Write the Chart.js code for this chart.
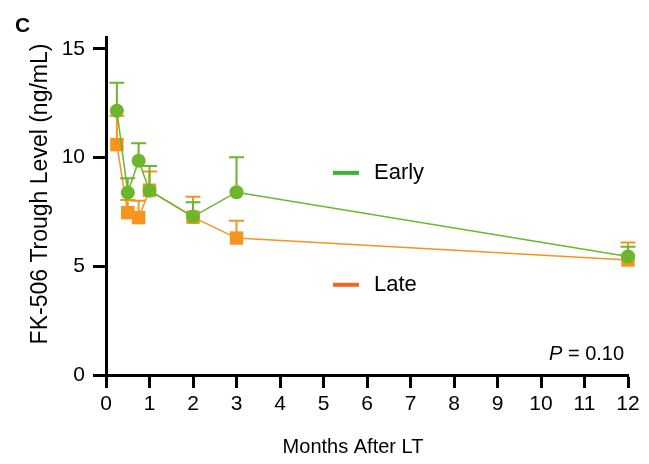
<!DOCTYPE html>
<html>
<head>
<meta charset="utf-8">
<script src="https://cdn.jsdelivr.net/npm/chart.js@4.4.0/dist/chart.umd.min.js"></script>
<style>
  html, body { margin: 0; padding: 0; background: #fff; }
  #wrap { position: relative; width: 649px; height: 464px; }
</style>
</head>
<body>
<div id="wrap"><canvas id="c" width="649" height="464"></canvas></div>
<script>
// ---- data ----
const months = [0.25, 0.5, 0.75, 1, 2, 3, 12];
const earlyMean = [12.16, 8.39, 9.86, 8.48, 7.29, 8.41, 5.45];
const earlyUpper = [13.45, 9.05, 10.66, 9.62, 7.95, 10.02, 5.9];
const lateMean = [10.6, 7.47, 7.24, 8.5, 7.26, 6.3, 5.29];
const lateUpper = [11.93, 8.05, 8.02, 9.36, 8.2, 7.1, 6.1];
const xTicks = [0,1,2,3,4,5,6,7,8,9,10,11,12];
const yTicks = [0, 5, 10, 15];
const seriesNames = ['Early', 'Late'];
const panelLabel = 'C';
const xTitle = 'Months After LT';
const yTitle = 'FK-506 Trough Level (ng/mL)';
const pText = '= 0.10';

const GREEN = '#6cb52d';
const ORANGE = '#f7941d';
const LEG_GREEN = '#3db135';
const LEG_ORANGE = '#f26522';
const FONT = '"Liberation Sans", Arial, Helvetica, sans-serif';

function pts(xs, ys) { return xs.map((x, i) => ({ x: x, y: ys[i] })); }

const errorBars = {
  id: 'errorBars',
  beforeDatasetDraw(chart, args) {
    const ds = chart.data.datasets[args.index];
    if (!ds.upper) return;
    const ctx = chart.ctx, xs = chart.scales.x, ys = chart.scales.y;
    ctx.save();
    ctx.strokeStyle = ds.borderColor;
    ctx.lineWidth = 2;
    ds.data.forEach((p, i) => {
      const px = xs.getPixelForValue(p.x);
      const py = ys.getPixelForValue(p.y);
      const pu = ys.getPixelForValue(ds.upper[i]);
      ctx.beginPath();
      ctx.moveTo(px, py); ctx.lineTo(px, pu);
      ctx.moveTo(px - 7.5, pu); ctx.lineTo(px + 7.5, pu);
      ctx.stroke();
    });
    ctx.restore();
  }
};

const annotations = {
  id: 'annotations',
  afterDraw(chart) {
    const ctx = chart.ctx, xs = chart.scales.x, ys = chart.scales.y;
    ctx.save();
    ctx.fillStyle = '#000';
    // panel label
    ctx.font = 'bold 21px ' + FONT;
    ctx.textBaseline = 'alphabetic';
    ctx.textAlign = 'left';
    ctx.fillText(panelLabel, 15, 32);
    // axis titles
    ctx.font = '20px ' + FONT;
    ctx.textAlign = 'center';
    ctx.textBaseline = 'middle';
    ctx.fillText(xTitle, 353, 447);
    ctx.save();
    ctx.translate(41, 194);
    ctx.rotate(-Math.PI / 2);
    ctx.font = '23px ' + FONT;
    ctx.fillText(yTitle, 0, 0);
    ctx.restore();
    // legend
    ctx.textAlign = 'left';
    const legs = [
      { name: seriesNames[0], color: LEG_GREEN, yv: 9.3 },
      { name: seriesNames[1], color: LEG_ORANGE, yv: 4.15 }
    ];
    legs.forEach(l => {
      const y = ys.getPixelForValue(l.yv);
      ctx.strokeStyle = l.color;
      ctx.lineWidth = 4;
      ctx.beginPath();
      ctx.moveTo(333, y); ctx.lineTo(359, y);
      ctx.stroke();
      ctx.fillStyle = '#000';
      ctx.font = '22px ' + FONT;
      ctx.textBaseline = 'middle';
      ctx.fillText(l.name, 374, y);
    });
    // P value
    ctx.textBaseline = 'alphabetic';
    ctx.font = 'italic 20px ' + FONT;
    ctx.fillText('P', 549, 360);
    const w = ctx.measureText('P ').width;
    ctx.font = '20px ' + FONT;
    ctx.fillText(pText, 549 + w, 360);
    ctx.restore();
  }
};

new Chart(document.getElementById('c'), {
  type: 'scatter',
  data: {
    datasets: [
      {
        label: seriesNames[0],
        data: pts(months, earlyMean),
        upper: earlyUpper,
        showLine: true,
        clip: false,
        borderColor: GREEN,
        backgroundColor: GREEN,
        borderWidth: 1.5,
        pointStyle: 'circle',
        pointRadius: 7,
        pointBorderWidth: 0,
        pointHoverRadius: 7
      },
      {
        label: seriesNames[1],
        data: pts(months, lateMean),
        upper: lateUpper,
        showLine: true,
        clip: false,
        borderColor: ORANGE,
        backgroundColor: ORANGE,
        borderWidth: 1.5,
        pointStyle: 'rect',
        pointRadius: 9.5,
        pointBorderWidth: 0,
        pointHoverRadius: 9.5
      }
    ]
  },
  options: {
    responsive: false,
    animation: false,
    events: [],
    layout: { padding: { top: 37, right: 21, left: 0, bottom: 0 } },
    plugins: { legend: { display: false }, tooltip: { enabled: false } },
    scales: {
      x: {
        type: 'linear',
        min: 0, max: 12,
        afterFit(s) { s.height = 89; },
        afterBuildTicks(s) { s.ticks = xTicks.map(v => ({ value: v })); },
        border: { display: true, color: '#000', width: 3 },
        grid: { display: true, drawOnChartArea: false, drawTicks: true, tickLength: 13, tickWidth: 3, tickColor: '#000' },
        ticks: { color: '#000', font: { family: FONT, size: 21 }, padding: 4, maxRotation: 0, autoSkip: false },
        title: { display: false }
      },
      y: {
        type: 'linear',
        min: 0, max: 15.55,
        afterFit(s) { s.width = 106; },
        afterBuildTicks(s) { s.ticks = yTicks.map(v => ({ value: v })); },
        border: { display: true, color: '#000', width: 3 },
        grid: { display: true, drawOnChartArea: false, drawTicks: true, tickLength: 13, tickWidth: 3, tickColor: '#000' },
        ticks: { color: '#000', font: { family: FONT, size: 21 }, padding: 8 },
        title: { display: false }
      }
    }
  },
  plugins: [errorBars, annotations]
});
</script>
</body>
</html>
